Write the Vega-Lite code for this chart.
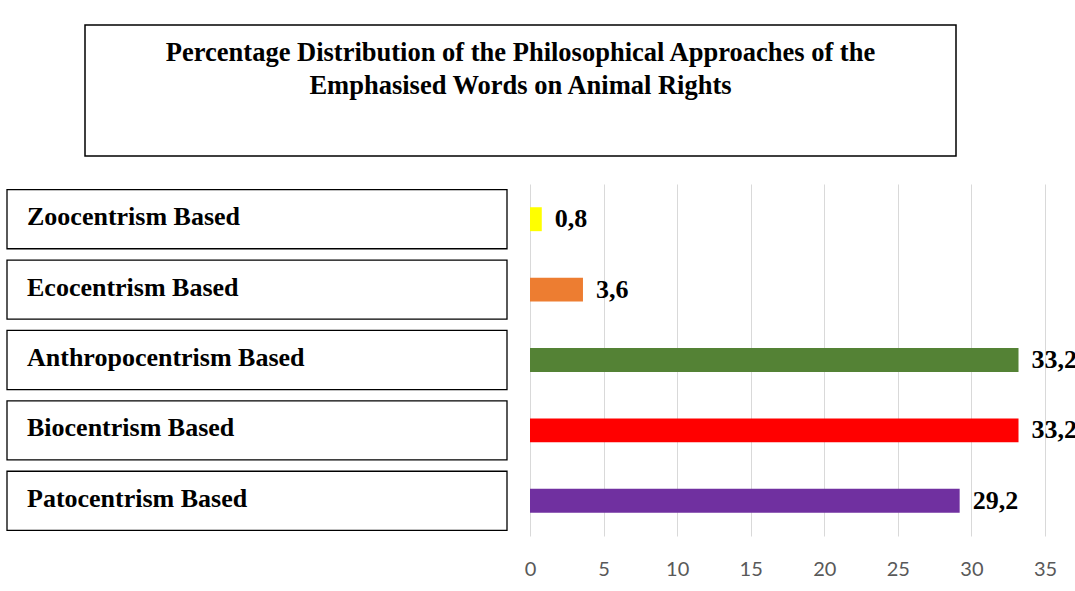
{
  "$schema": "https://vega.github.io/schema/vega-lite/v6.json",
  "padding": {"left": 6, "top": 24, "right": 0, "bottom": 0},
  "background": "white",
  "config": {
    "view": {"stroke": null},
    "locale": {"number": {"decimal": ",", "thousands": ".", "grouping": [3], "currency": ["", ""]}}
  },
  "data": {
    "values": [
      {"approach": "Zoocentrism Based", "value": 0.8},
      {"approach": "Ecocentrism Based", "value": 3.6},
      {"approach": "Anthropocentrism Based", "value": 33.2},
      {"approach": "Biocentrism Based", "value": 33.2},
      {"approach": "Patocentrism Based", "value": 29.2}
    ]
  },
  "spacing": 27,
  "vconcat": [
    {
      "bounds": "flush",
      "spacing": 23,
      "hconcat": [
        {
          "width": 55,
          "height": 131,
          "data": {"values": [{}]},
          "mark": {"type": "text", "text": ""},
          "encoding": {}
        },
        {
          "width": 871,
          "height": 131,
          "data": {"values": [{"title": "Percentage Distribution of the Philosophical Approaches of the Emphasised Words on Animal Rights"}]},
          "view": {"stroke": "black", "strokeWidth": 1.5, "fill": "white"},
          "mark": {
            "type": "text",
            "text": ["Percentage Distribution of the Philosophical Approaches of the", "Emphasised Words on Animal Rights"],
            "font": "Liberation Serif",
            "fontWeight": "bold",
            "fontSize": 26.5,
            "lineHeight": 33,
            "align": "center",
            "baseline": "middle",
            "dy": -38,
            "color": "black"
          },
          "encoding": {}
        }
      ]
    },
    {
      "bounds": "flush",
      "spacing": 23,
      "hconcat": [
        {
          "width": 500,
          "height": 352,
          "encoding": {
            "y": {"field": "approach", "type": "nominal", "sort": null, "axis": null,
                  "scale": {"paddingInner": 0.16, "paddingOuter": 0.08}}
          },
          "layer": [
            {
              "mark": {"type": "rect", "fill": "white", "stroke": "black", "strokeWidth": 1.3},
              "encoding": {
                "x": {"datum": 0, "type": "quantitative", "scale": {"domain": [0, 1]}, "axis": null},
                "x2": {"datum": 1}
              }
            },
            {
              "mark": {"type": "text", "align": "left", "baseline": "middle", "dx": 20, "dy": -2,
                       "font": "Liberation Serif", "fontWeight": "bold", "fontSize": 26, "color": "black"},
              "encoding": {
                "x": {"datum": 0, "type": "quantitative"},
                "text": {"field": "approach"}
              }
            }
          ]
        },
        {
          "width": 515,
          "height": 352,
          "encoding": {
            "y": {"field": "approach", "type": "nominal", "sort": null, "axis": null,
                  "scale": {"paddingInner": 0.66, "paddingOuter": 0.33}},
            "x": {"field": "value", "type": "quantitative",
                  "scale": {"domain": [0, 35], "nice": false},
                  "axis": {"values": [0, 5, 10, 15, 20, 25, 30, 35], "grid": true, "gridColor": "#d9d9d9",
                           "domain": false, "ticks": false, "labelPadding": 23, "labelColor": "#595959",
                           "labelFont": "Lato", "labelFontSize": 20, "title": null, "labelFlush": false}}
          },
          "layer": [
            {
              "mark": {"type": "bar"},
              "encoding": {
                "color": {"field": "approach", "type": "nominal", "legend": null,
                          "scale": {"domain": ["Zoocentrism Based", "Ecocentrism Based", "Anthropocentrism Based", "Biocentrism Based", "Patocentrism Based"],
                                    "range": ["#FFFF00", "#ED7D31", "#548235", "#FF0000", "#7030A0"]}}
              }
            },
            {
              "mark": {"type": "text", "align": "left", "baseline": "middle", "dx": 13,
                       "font": "Liberation Serif", "fontWeight": "bold", "fontSize": 26, "color": "black"},
              "encoding": {
                "text": {"field": "value", "type": "quantitative", "format": ".1f"}
              }
            }
          ]
        }
      ]
    }
  ]
}
